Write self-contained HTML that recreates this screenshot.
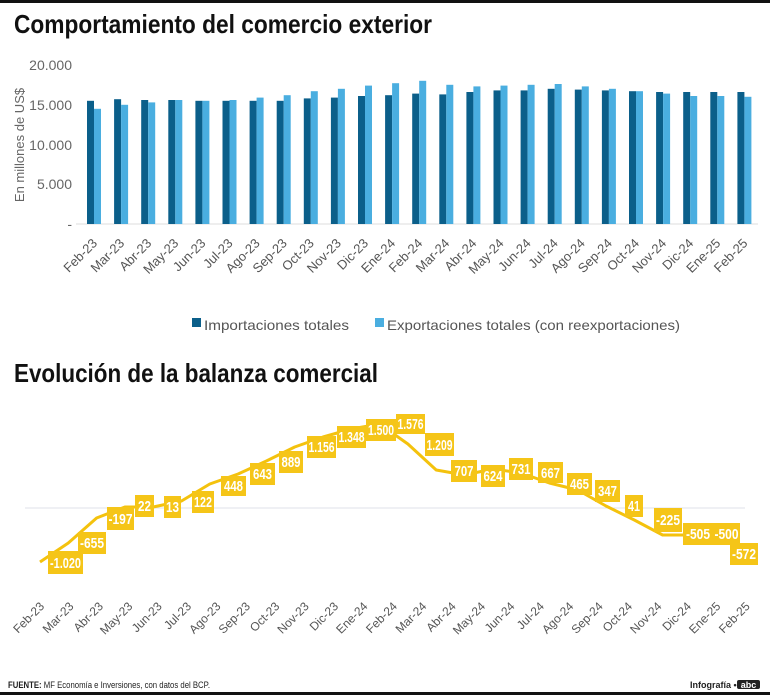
<!DOCTYPE html>
<html><head><meta charset="utf-8"><style>
html,body{margin:0;padding:0;background:#fff;}
svg{display:block;}
.n{font-family:"Liberation Sans Narrow","Liberation Sans",sans-serif;}
.t{font-family:"Liberation Sans",sans-serif;}
</style></head><body>
<svg width="770" height="695" viewBox="0 0 770 695" xmlns="http://www.w3.org/2000/svg">
<rect x="0" y="0" width="770" height="3" fill="#111"/>
<text x="14" y="33" class="n" font-size="26" font-weight="bold" fill="#111" textLength="418" lengthAdjust="spacingAndGlyphs">Comportamiento del comercio exterior</text>
<g class="t" font-size="14" fill="#666" text-anchor="end">
<text x="72" y="70">20.000</text>
<text x="72" y="110">15.000</text>
<text x="72" y="150">10.000</text>
<text x="72" y="189">5.000</text>
<text x="72" y="229">-</text>
</g>
<text transform="translate(24,145) rotate(-90)" class="t" font-size="13" fill="#666" text-anchor="middle">En millones de US$</text>
<line x1="76" y1="224" x2="758" y2="224" stroke="#ddd" stroke-width="1"/>
<g fill="#0b5f8a">
<rect x="87" y="100.8" width="7" height="123.2"/>
<rect x="114.1" y="99.2" width="7" height="124.8"/>
<rect x="141.2" y="100" width="7" height="124"/>
<rect x="168.3" y="100" width="7" height="124"/>
<rect x="195.4" y="100.8" width="7" height="123.2"/>
<rect x="222.5" y="100.8" width="7" height="123.2"/>
<rect x="249.6" y="100.8" width="7" height="123.2"/>
<rect x="276.7" y="100.8" width="7" height="123.2"/>
<rect x="303.8" y="98.4" width="7" height="125.6"/>
<rect x="330.9" y="97.6" width="7" height="126.4"/>
<rect x="358" y="96" width="7" height="128"/>
<rect x="385.1" y="95.2" width="7" height="128.8"/>
<rect x="412.2" y="93.6" width="7" height="130.4"/>
<rect x="439.3" y="94.4" width="7" height="129.6"/>
<rect x="466.4" y="92" width="7" height="132"/>
<rect x="493.5" y="90.4" width="7" height="133.6"/>
<rect x="520.6" y="90.4" width="7" height="133.6"/>
<rect x="547.7" y="88.8" width="7" height="135.2"/>
<rect x="574.8" y="89.6" width="7" height="134.4"/>
<rect x="601.9" y="90.4" width="7" height="133.6"/>
<rect x="629" y="91.2" width="7" height="132.8"/>
<rect x="656.1" y="92" width="7" height="132"/>
<rect x="683.2" y="92" width="7" height="132"/>
<rect x="710.3" y="92" width="7" height="132"/>
<rect x="737.4" y="92" width="7" height="132"/>
</g>
<g fill="#4aaee0">
<rect x="94" y="108.8" width="7" height="115.2"/>
<rect x="121.1" y="104.8" width="7" height="119.2"/>
<rect x="148.2" y="102.4" width="7" height="121.6"/>
<rect x="175.3" y="100" width="7" height="124"/>
<rect x="202.4" y="100.8" width="7" height="123.2"/>
<rect x="229.5" y="100" width="7" height="124"/>
<rect x="256.6" y="97.6" width="7" height="126.4"/>
<rect x="283.7" y="95.2" width="7" height="128.8"/>
<rect x="310.8" y="91.2" width="7" height="132.8"/>
<rect x="337.9" y="88.8" width="7" height="135.2"/>
<rect x="365" y="85.6" width="7" height="138.4"/>
<rect x="392.1" y="83.2" width="7" height="140.8"/>
<rect x="419.2" y="80.8" width="7" height="143.2"/>
<rect x="446.3" y="84.8" width="7" height="139.2"/>
<rect x="473.4" y="86.4" width="7" height="137.6"/>
<rect x="500.5" y="85.6" width="7" height="138.4"/>
<rect x="527.6" y="84.8" width="7" height="139.2"/>
<rect x="554.7" y="84" width="7" height="140"/>
<rect x="581.8" y="86.4" width="7" height="137.6"/>
<rect x="608.9" y="88.8" width="7" height="135.2"/>
<rect x="636" y="91.2" width="7" height="132.8"/>
<rect x="663.1" y="93.6" width="7" height="130.4"/>
<rect x="690.2" y="96" width="7" height="128"/>
<rect x="717.3" y="96" width="7" height="128"/>
<rect x="744.4" y="96.8" width="7" height="127.2"/>
</g>
<g class="t" font-size="13" fill="#555" text-anchor="end">
<text transform="translate(98,244) rotate(-45)">Feb-23</text>
<text transform="translate(125.1,244) rotate(-45)">Mar-23</text>
<text transform="translate(152.2,244) rotate(-45)">Abr-23</text>
<text transform="translate(179.3,244) rotate(-45)">May-23</text>
<text transform="translate(206.4,244) rotate(-45)">Jun-23</text>
<text transform="translate(233.5,244) rotate(-45)">Jul-23</text>
<text transform="translate(260.6,244) rotate(-45)">Ago-23</text>
<text transform="translate(287.7,244) rotate(-45)">Sep-23</text>
<text transform="translate(314.8,244) rotate(-45)">Oct-23</text>
<text transform="translate(341.9,244) rotate(-45)">Nov-23</text>
<text transform="translate(369,244) rotate(-45)">Dic-23</text>
<text transform="translate(396.1,244) rotate(-45)">Ene-24</text>
<text transform="translate(423.2,244) rotate(-45)">Feb-24</text>
<text transform="translate(450.3,244) rotate(-45)">Mar-24</text>
<text transform="translate(477.4,244) rotate(-45)">Abr-24</text>
<text transform="translate(504.5,244) rotate(-45)">May-24</text>
<text transform="translate(531.6,244) rotate(-45)">Jun-24</text>
<text transform="translate(558.7,244) rotate(-45)">Jul-24</text>
<text transform="translate(585.8,244) rotate(-45)">Ago-24</text>
<text transform="translate(612.9,244) rotate(-45)">Sep-24</text>
<text transform="translate(640,244) rotate(-45)">Oct-24</text>
<text transform="translate(667.1,244) rotate(-45)">Nov-24</text>
<text transform="translate(694.2,244) rotate(-45)">Dic-24</text>
<text transform="translate(721.3,244) rotate(-45)">Ene-25</text>
<text transform="translate(748.4,244) rotate(-45)">Feb-25</text>
</g>
<rect x="192" y="318" width="9" height="9" fill="#0b5f8a"/>
<text x="204" y="330" class="t" font-size="14" fill="#555" textLength="145" lengthAdjust="spacingAndGlyphs">Importaciones totales</text>
<rect x="375" y="318" width="9" height="9" fill="#4aaee0"/>
<text x="387" y="330" class="t" font-size="14" fill="#555" textLength="293" lengthAdjust="spacingAndGlyphs">Exportaciones totales (con reexportaciones)</text>

<text x="14" y="382" class="n" font-size="26" font-weight="bold" fill="#111" textLength="364" lengthAdjust="spacingAndGlyphs">Evolución de la balanza comercial</text>
<line x1="25" y1="508" x2="745" y2="508" stroke="#dfe1e8" stroke-width="1"/>
<polyline fill="none" stroke="#f4c20d" stroke-width="3" stroke-linejoin="round" points="40,562 68.3,543 96.6,518 124.9,507 153.2,507 181.5,501 209.8,484 238.1,474 266.4,461 294.7,447 323,437 351.3,429 379.6,424 407.9,444 436.2,470 464.5,475 492.8,469 521.1,473 549.4,483 577.7,490 606,506 634.3,520 662.6,535 690.9,535 719.2,538"/>
<g fill="#f5c518">
<rect x="48" y="551" width="35" height="23"/>
<rect x="78" y="532" width="28" height="22"/>
<rect x="107" y="507" width="27" height="23"/>
<rect x="135" y="495" width="19" height="22"/>
<rect x="164" y="496" width="17" height="22"/>
<rect x="192" y="491" width="22" height="22"/>
<rect x="221" y="476" width="25" height="20"/>
<rect x="250" y="463" width="25" height="22"/>
<rect x="279" y="451" width="24" height="22"/>
<rect x="307" y="436" width="29" height="22"/>
<rect x="337" y="426" width="29" height="22"/>
<rect x="366" y="419" width="30" height="22"/>
<rect x="396" y="414" width="29" height="20"/>
<rect x="425" y="433" width="29" height="23"/>
<rect x="451" y="460" width="26" height="22"/>
<rect x="481" y="465" width="24" height="22"/>
<rect x="509" y="458" width="24" height="22"/>
<rect x="538" y="462" width="25" height="21"/>
<rect x="567" y="473" width="25" height="22"/>
<rect x="595" y="480" width="25" height="22"/>
<rect x="625" y="495" width="18" height="22"/>
<rect x="654" y="508" width="28" height="24"/>
<rect x="683" y="523" width="30" height="22"/>
<rect x="713" y="523" width="27" height="22"/>
<rect x="730" y="543" width="28" height="22"/>
</g>
<g class="n" font-size="15" font-weight="bold" fill="#fff" text-anchor="middle">
<text x="65.5" y="568" textLength="31" lengthAdjust="spacingAndGlyphs">-1.020</text>
<text x="92" y="548" textLength="24" lengthAdjust="spacingAndGlyphs">-655</text>
<text x="120.5" y="524" textLength="24" lengthAdjust="spacingAndGlyphs">-197</text>
<text x="144.5" y="511" textLength="13" lengthAdjust="spacingAndGlyphs">22</text>
<text x="172.5" y="512" textLength="13" lengthAdjust="spacingAndGlyphs">13</text>
<text x="203" y="507" textLength="18" lengthAdjust="spacingAndGlyphs">122</text>
<text x="233.5" y="491" textLength="19" lengthAdjust="spacingAndGlyphs">448</text>
<text x="262.5" y="479" textLength="19" lengthAdjust="spacingAndGlyphs">643</text>
<text x="291" y="467" textLength="19" lengthAdjust="spacingAndGlyphs">889</text>
<text x="321.5" y="452" textLength="26" lengthAdjust="spacingAndGlyphs">1.156</text>
<text x="351.5" y="442" textLength="26" lengthAdjust="spacingAndGlyphs">1.348</text>
<text x="381" y="435" textLength="26" lengthAdjust="spacingAndGlyphs">1.500</text>
<text x="410.5" y="429" textLength="26" lengthAdjust="spacingAndGlyphs">1.576</text>
<text x="439.5" y="450" textLength="26" lengthAdjust="spacingAndGlyphs">1.209</text>
<text x="464" y="476" textLength="19" lengthAdjust="spacingAndGlyphs">707</text>
<text x="493" y="481" textLength="19" lengthAdjust="spacingAndGlyphs">624</text>
<text x="521" y="474" textLength="19" lengthAdjust="spacingAndGlyphs">731</text>
<text x="550.5" y="478" textLength="19" lengthAdjust="spacingAndGlyphs">667</text>
<text x="579.5" y="489" textLength="19" lengthAdjust="spacingAndGlyphs">465</text>
<text x="607.5" y="496" textLength="19" lengthAdjust="spacingAndGlyphs">347</text>
<text x="634" y="511" textLength="12" lengthAdjust="spacingAndGlyphs">41</text>
<text x="668" y="525" textLength="24" lengthAdjust="spacingAndGlyphs">-225</text>
<text x="698" y="539" textLength="24" lengthAdjust="spacingAndGlyphs">-505</text>
<text x="726.5" y="539" textLength="24" lengthAdjust="spacingAndGlyphs">-500</text>
<text x="744" y="559" textLength="24" lengthAdjust="spacingAndGlyphs">-572</text>
</g>
<g class="t" font-size="12" fill="#555" text-anchor="end">
<text transform="translate(45,607) rotate(-45)">Feb-23</text>
<text transform="translate(74.4,607) rotate(-45)">Mar-23</text>
<text transform="translate(103.8,607) rotate(-45)">Abr-23</text>
<text transform="translate(133.2,607) rotate(-45)">May-23</text>
<text transform="translate(162.6,607) rotate(-45)">Jun-23</text>
<text transform="translate(192,607) rotate(-45)">Jul-23</text>
<text transform="translate(221.4,607) rotate(-45)">Ago-23</text>
<text transform="translate(250.8,607) rotate(-45)">Sep-23</text>
<text transform="translate(280.2,607) rotate(-45)">Oct-23</text>
<text transform="translate(309.6,607) rotate(-45)">Nov-23</text>
<text transform="translate(339,607) rotate(-45)">Dic-23</text>
<text transform="translate(368.4,607) rotate(-45)">Ene-24</text>
<text transform="translate(397.8,607) rotate(-45)">Feb-24</text>
<text transform="translate(427.2,607) rotate(-45)">Mar-24</text>
<text transform="translate(456.6,607) rotate(-45)">Abr-24</text>
<text transform="translate(486,607) rotate(-45)">May-24</text>
<text transform="translate(515.4,607) rotate(-45)">Jun-24</text>
<text transform="translate(544.8,607) rotate(-45)">Jul-24</text>
<text transform="translate(574.2,607) rotate(-45)">Ago-24</text>
<text transform="translate(603.6,607) rotate(-45)">Sep-24</text>
<text transform="translate(633,607) rotate(-45)">Oct-24</text>
<text transform="translate(662.4,607) rotate(-45)">Nov-24</text>
<text transform="translate(691.8,607) rotate(-45)">Dic-24</text>
<text transform="translate(721.2,607) rotate(-45)">Ene-25</text>
<text transform="translate(750.6,607) rotate(-45)">Feb-25</text>
</g>
<text x="8" y="688" class="n" font-size="9" fill="#222" textLength="202" lengthAdjust="spacingAndGlyphs"><tspan font-weight="bold">FUENTE:</tspan> MF Economía e Inversiones, con datos del BCP.</text>
<text x="690" y="688" class="n" font-size="9" font-weight="bold" fill="#222">Infografía •</text>
<rect x="737" y="680" width="23" height="9" rx="2" fill="#222"/>
<text x="748.5" y="688" class="n" font-size="9" font-weight="bold" fill="#fff" text-anchor="middle">abc</text>
<rect x="0" y="692" width="770" height="3" fill="#111"/>
</svg>
</body></html>
